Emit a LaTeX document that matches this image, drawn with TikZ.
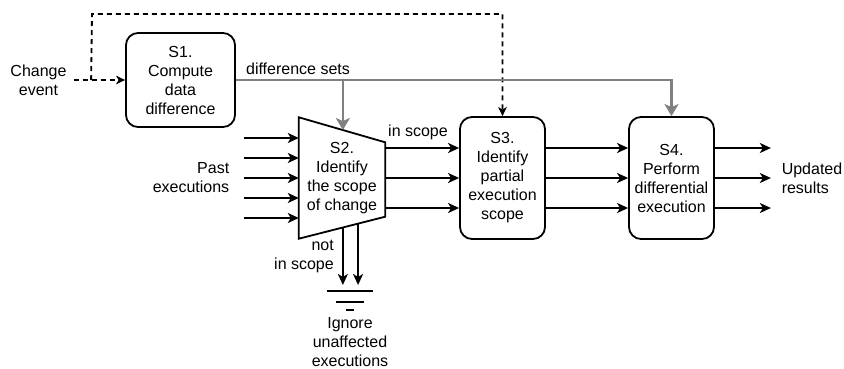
\documentclass[tikz,border=0pt]{standalone}
\usepackage{fontspec}
\setmainfont{Liberation Sans}
\usetikzlibrary{arrows.meta,calc,positioning}

\definecolor{diffgray}{RGB}{128,128,128}

\tikzset{
  main node/.style={rectangle, draw, rounded corners=12pt, line width=1.8pt,
    align=center, inner sep=0pt},
  flow/.style={-{Stealth[length=11pt,width=10pt,inset=3pt]}, line width=1.8pt},
  change flow/.style={-{Stealth[length=9pt,width=8.5pt,inset=2.5pt]}, line width=1.8pt,
    dash pattern=on 5pt off 4pt},
  diff flow/.style={-{Stealth[length=12pt,width=14pt,inset=3pt]}, line width=2.7pt, draw=diffgray},
}

\begin{document}
\begin{tikzpicture}[x=1pt, y=-1pt, font=\fontsize{16}{19}\selectfont]

      \useasboundingbox (0,0) rectangle (844,368);

      \node (S1) [main node, minimum width=109pt, minimum height=94pt] at (180.5,80)
        {S1.\\Compute\\data\\difference};
      \node (Change) [node distance=142pt, left of=S1, align=center, inner xsep=7pt]
        {Change\\event};

      \node (S2) [align=center, inner sep=0pt, minimum width=86pt, minimum height=121pt] at (342,178)
        {S2.\\Identify\\the scope\\of change};
      \node (S3) [main node, node distance=160.5pt, right of=S2, minimum width=85pt, minimum height=122pt]
        {S3.\\Identify\\partial\\execution\\scope};
      \node (S4) [main node, node distance=169pt, right of=S3, minimum width=85pt, minimum height=122pt]
        {S4.\\Perform\\differential\\execution};

      \node (Past) [node distance=151pt, left of=S2, align=right] {Past\\executions};
      \node (Updated) [node distance=140.5pt, right of=S4, align=left] {Updated\\results};

      \node (DiffSets) at (298,69) {difference sets};
      \node (InScope) at (418,132) {in scope};
      \node (NotInScope) [anchor=east, align=right, inner sep=0pt] at (334,256) {not\\in scope};

      %% S2 is drawn as a trapezoid round its node
      \coordinate (S2a) at (S2.north west);
      \coordinate (S2b) at ([yshift=-25pt]S2.north east);
      \coordinate (S2c) at ([yshift=22pt]S2.south east);
      \coordinate (S2d) at (S2.south west);
      \draw [line width=1.8pt] (S2a) -- (S2b) -- (S2c) -- (S2d) -- cycle;

      %% ground
      \coordinate (Gnd) at (350,291);
      \draw [line width=1.8pt] ([xshift=-23pt]Gnd) -- ([xshift=23pt]Gnd);
      \draw [line width=1.8pt] ([xshift=-14pt,yshift=-11pt]Gnd) -- ([xshift=14pt,yshift=-11pt]Gnd);
      \draw [line width=1.8pt] ([xshift=-4pt,yshift=-19pt]Gnd) -- ([xshift=4pt,yshift=-19pt]Gnd);
      \node (Ignore) [node distance=51pt, below of=Gnd, align=center] {Ignore\\unaffected\\executions};

      %% change event
      \coordinate (Tap) at ([xshift=-34pt]S1.west);
      \coordinate (DashTop) at (92,14);
      \draw [change flow] (Change.east) -- (S1.west);
      \draw [change flow] (Tap) -- (DashTop) -| (S3.north);

      %% difference sets
      \coordinate (S2top) at ($(S2a)!0.51!(S2b)$);
      \draw [diff flow] (S1.east) -| (S4.north);
      \draw [diff flow] (S2top |- S1.east) -- (S2top);

      \foreach \k/\dy in {1/40,2/20,3/0,4/-20,5/-40} {
        \coordinate (In\k) at ([xshift=-55pt, yshift=\dy pt]S2.west);
        \draw [flow] (In\k) -- (In\k -| S2.west);
      }

      \foreach \k/\dy in {1/30,2/0,3/-30} {
        \draw [flow] ([yshift=\dy pt]S2.east) -- ([yshift=\dy pt]S3.west);
        \draw [flow] ([yshift=\dy pt]S3.east) -- ([yshift=\dy pt]S4.west);
        \coordinate (Out\k) at ([xshift=56pt, yshift=\dy pt]S4.east);
        \draw [flow] ([yshift=\dy pt]S4.east) -- (Out\k);
      }

      \coordinate (Drop1) at ($(S2d)!0.51!(S2c)$);
      \coordinate (Drop2) at ($(S2d)!0.686!(S2c)$);
      \draw [flow, shorten >=6pt] (Drop1) -- (Drop1 |- Gnd);
      \draw [flow, shorten >=6pt] (Drop2) -- (Drop2 |- Gnd);

    \end{tikzpicture}
\end{document}
